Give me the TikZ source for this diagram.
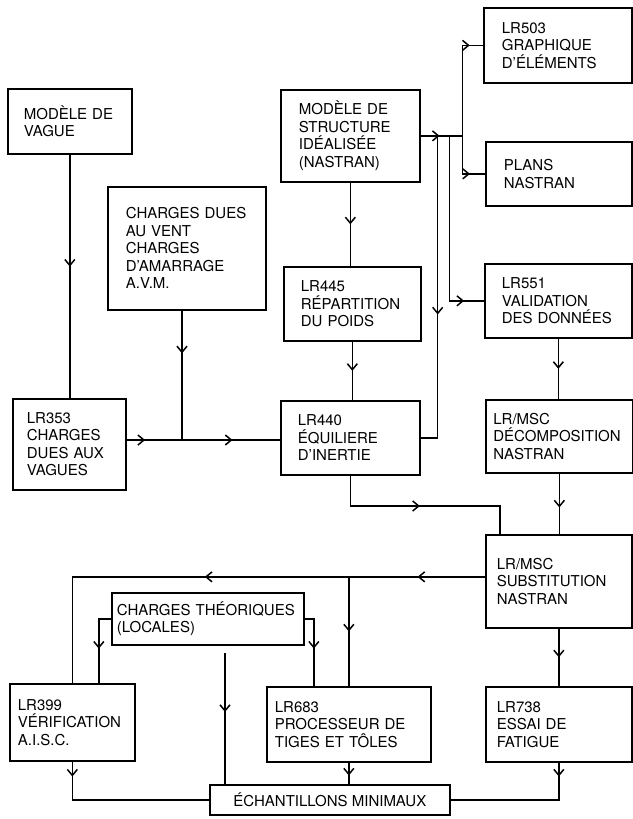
\documentclass[tikz,border=0pt]{standalone}
\usepackage{fontspec}
\setmainfont{TeX Gyre Heros}
\usepackage{tikz}
\usetikzlibrary{arrows.meta,decorations.markings,positioning}

\tikzset{
  blk/.style={draw, line width=1.7pt, anchor=north west, align=left, inner ysep=0pt,
    font=\fontsize{15}{17.5}\selectfont},
  flow/.style={line width=1.5pt},
  marr/.style={postaction={decorate, decoration={markings,
    mark=at position #1 with {\arrow{Straight Barb[length=6pt,width=10pt]}}}}}
}

\begin{document}
\begin{tikzpicture}[x=1pt,y=-1pt]
\useasboundingbox (0,0) rectangle (632,819);

%Input models
\node[blk, inner xsep=16pt, text width=92pt, minimum height=65pt] (vague) at (7,88) {MODÈLE DE\\VAGUE};
\node[blk, inner xsep=18pt, text width=122pt, minimum height=123pt] (vent) at (107,186) {CHARGES DUES\\AU VENT\\CHARGES\\D'AMARRAGE\\A.V.M.};
\node[blk, inner xsep=18pt, text width=103pt, minimum height=92pt] (struct) at (280,89) {MODÈLE DE\\STRUCTURE\\IDÉALISÉE\\(NASTRAN)};

%Right column
\node[blk, inner xsep=18pt, text width=112pt, minimum height=75pt] (lr503) at (483,7) {LR503\\GRAPHIQUE\\D'ÉLÉMENTS};
\node[blk, inner xsep=18pt, text width=110pt, minimum height=64pt] (plans) at (485,141) {PLANS\\NASTRAN};
\node[blk, inner xsep=17pt, text width=113pt, minimum height=74pt] (lr551) at (484,263) {LR551\\VALIDATION\\DES DONNÉES};
\node[blk, inner xsep=7.5pt, text width=132pt, minimum height=73pt] (decomp) at (485,399) {LR/MSC\\DÉCOMPOSITION\\NASTRAN};
\node[blk, inner xsep=11pt, text width=124pt, minimum height=93pt] (subst) at (485,534) {LR/MSC\\SUBSTITUTION\\NASTRAN};
\node[blk, inner xsep=11pt, text width=124pt, minimum height=75pt] (lr738) at (485,686) {LR738\\ESSAI DE\\FATIGUE};

%Middle
\node[blk, inner xsep=17pt, text width=103pt, minimum height=74pt] (lr445) at (283,266) {LR445\\RÉPARTITION\\DU POIDS};
\node[blk, inner xsep=14pt, text width=85pt, minimum height=91pt] (lr353) at (12,398) {LR353\\CHARGES\\DUES AUX\\VAGUES};
\node[blk, inner xsep=17pt, text width=105pt, minimum height=74pt] (lr440) at (280,400) {LR440\\ÉQUILIERE\\D'INERTIE};

%Bottom
\node[blk, inner xsep=5pt, text width=182pt, minimum height=52pt] (cth) at (111,592) {CHARGES THÉORIQUES\\(LOCALES)};
\node[blk, inner xsep=8pt, text width=109pt, minimum height=77pt] (lr399) at (9,683) {LR399\\VÉRIFICATION\\A.I.S.C.};
\node[blk, inner xsep=8pt, text width=148pt, minimum height=75pt] (lr683) at (266,686) {LR683\\PROCESSEUR DE\\TIGES ET TÔLES};
\node[blk, inner xsep=0pt, minimum width=240pt, minimum height=30pt] (echant) at (209,784) {ÉCHANTILLONS MINIMAUX};

%Wave and wind loads
\coordinate (j1) at (182,440);
\draw[flow, marr=0.46] (vague.south) -- (vague.south |- lr353.north);
\draw[flow, marr=0.33] (vent.south -| j1) -- (j1);
\draw[flow, marr=0.12, marr=0.69] (lr353.east |- j1) -- (lr440.west |- j1);

%Structure model
\coordinate[right=17pt of struct.east] (b2);
\coordinate[right=29pt of struct.east] (b3);
\coordinate[right=42pt of struct.east] (b1);
\draw[flow, marr=0.5] (struct.south) -- (struct.south |- lr445.north);
\draw[flow, marr=0.5] (lr445.south) -- (lr445.south |- lr440.north);
\draw[flow, marr=0.45] (struct.east) -- (b1);
\draw[flow, marr=0.88] (b1) |- (lr503.west);
\draw[flow, marr=0.75] (b1) |- (plans.west);
\draw[flow, marr=0.56] (b2) |- (lr440.east);
\draw[flow, marr=0.9] (b3) |- (lr551.west);

%Decomposition
\coordinate (k1) at (500,506);
\draw[flow, marr=0.5] (lr551.south) -- (lr551.south |- decomp.north);
\draw[flow, marr=0.56] (decomp.south) -- (decomp.south |- subst.north);
\draw[flow, marr=0.48] (lr440.south) |- (k1) -- (k1 |- subst.north);

%Substitution
\coordinate (s1) at ([yshift=4.5pt]subst.west);
\draw[flow, marr=0.13, marr=0.54] (s1) -| (lr399.north);
\draw[flow, marr=0.5] (s1 -| lr683.north) -- (lr683.north);
\draw[flow, marr=0.5] (subst.south) -- (subst.south |- lr738.north);

%Theoretical loads
\coordinate (c1) at (225,653);
\draw[flow, marr=0.55] (cth.west) -| ([xshift=26.5pt]lr399.north);
\draw[flow, marr=0.51] (cth.east) -| ([xshift=-35pt]lr683.north);
\draw[flow, marr=0.45] (c1) -- (c1 |- echant.north);

%Samples
\draw[flow, marr=0.085] (lr399.south) |- (echant.west);
\draw[flow, marr=0.6] (lr683.south) -- (lr683.south |- echant.north);
\draw[flow, marr=0.095] (lr738.south) |- (echant.east);

\end{tikzpicture}
\end{document}
